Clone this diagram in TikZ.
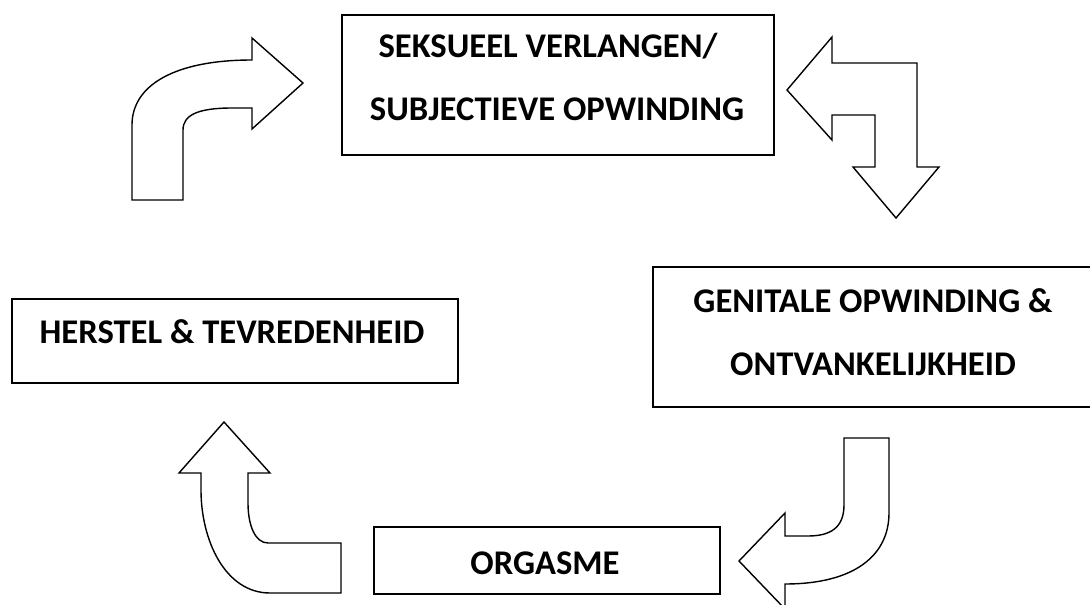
\documentclass[tikz,border=0pt]{standalone}
\usepackage{fontspec}
\setmainfont{Carlito}
\usepackage{tikz}
\usetikzlibrary{calc}

\begin{document}
\begin{tikzpicture}[x=0.02cm,y=0.02cm]
\tikzstyle{every node}+=[inner sep=0pt]
\tikzstyle{box}=[draw=black, line width=1.1pt, rectangle, anchor=north west]
\tikzstyle{lbl}=[anchor=base, font=\fontsize{19.7}{24}\selectfont\bfseries]
\tikzstyle{bigarrow}=[draw=black, line width=0.8pt, fill=white, line join=miter]
\clip (0,0) rectangle (1090,-605);
\node [box, minimum width=8.64cm, minimum height=2.8cm] (verlangen) at (341,-14) {};
\node [lbl] (verlangenA) at (548,-57) {SEKSUEEL VERLANGEN/};
\node [lbl] (verlangenB) at (557,-120) {SUBJECTIEVE OPWINDING};
\node [box, minimum width=9cm, minimum height=2.8cm] (genitaal) at (652,-266) {};
\node [lbl] (genitaalA) at (873,-312) {GENITALE OPWINDING \&};
\node [lbl] (genitaalB) at (873,-375) {ONTVANKELIJKHEID};
\node [box, minimum width=8.92cm, minimum height=1.68cm] (herstel) at (11,-298) {};
\node [lbl] (herstelA) at (232,-343) {HERSTEL \& TEVREDENHEID};
\node [box, minimum width=6.92cm, minimum height=1.34cm] (orgasme) at (373,-526) {};
\node [lbl] (orgasmeA) at (545,-574) {ORGASME};
\draw [bigarrow] (132,-200) -- (183,-200) -- (183,-130) .. controls (183,-115) and (198,-108) .. (232,-108) -- (252,-108) -- (252,-129) -- (303,-83) -- (252,-38) -- (252,-60) .. controls (175,-60) and (132,-85) .. (132,-125) -- cycle;
\draw [bigarrow] (787,-90) -- (832,-37) -- (832,-63) -- (917,-63) -- (917,-167) -- (939,-167) -- (896,-218) -- (853,-167) -- (875,-167) -- (875,-115) -- (832,-115) -- (832,-140) -- cycle;
\draw [bigarrow] (844,-438) -- (889,-438) -- (889,-513) .. controls (889,-555) and (855,-584) .. (785,-584) -- (785,-609) -- (739,-561) -- (785,-513) -- (785,-536) -- (808,-536) .. controls (830,-536) and (844,-528) .. (844,-505) -- cycle;
\draw [bigarrow] (224,-422) -- (270,-473) -- (248,-473) -- (248,-503) .. controls (248,-525) and (255,-543) .. (268,-543) -- (341,-543) -- (341,-593) -- (270,-593) .. controls (225,-593) and (201,-540) .. (201,-490) -- (201,-473) -- (179,-473) -- cycle;
\end{tikzpicture}
\end{document}
